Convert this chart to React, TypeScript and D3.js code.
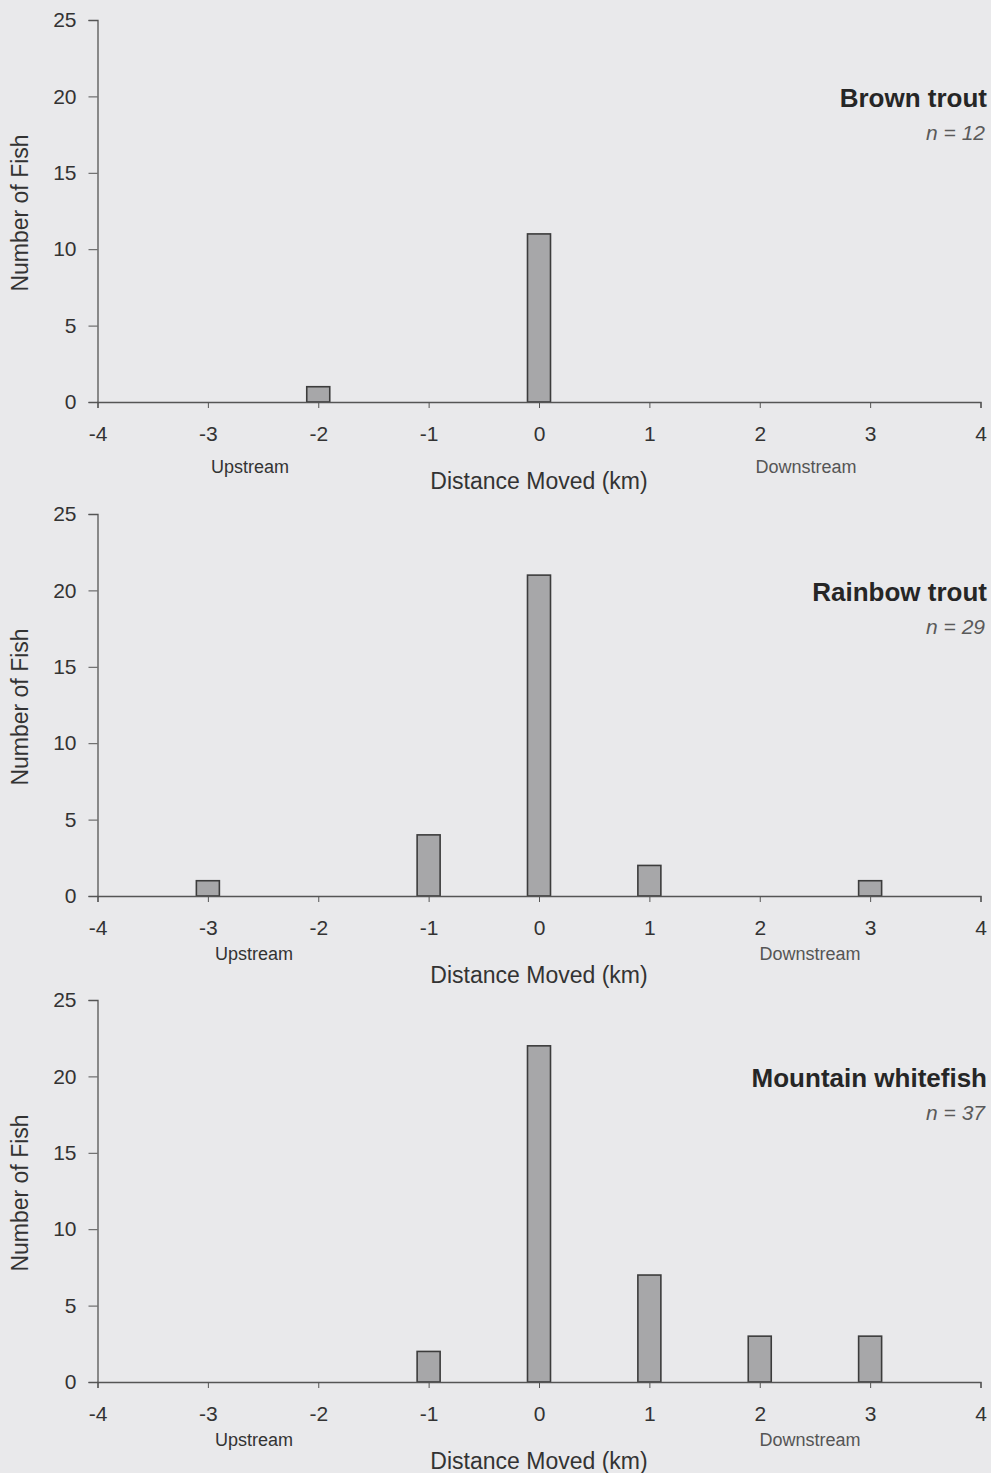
import React, { useEffect, useRef } from 'react';
import * as d3 from 'd3';

const species = ['Brown trout', 'Rainbow trout', 'Mountain whitefish'];
const sampleSizes = [12, 29, 37];
const distances = [-3, -2, -1, 0, 1, 2, 3];
const brownCounts = [0, 1, 0, 11, 0, 0, 0];
const rainbowCounts = [1, 0, 4, 21, 2, 0, 1];
const whitefishCounts = [0, 0, 2, 22, 7, 3, 3];
const xTicks = [-4, -3, -2, -1, 0, 1, 2, 3, 4];
const yTicks = [0, 5, 10, 15, 20, 25];

const W = 991;
const H = 1473;
const FONT = '"Liberation Sans", Arial, sans-serif';

const App: React.FC = () => {
  const svgRef = useRef<SVGSVGElement>(null);

  useEffect(() => {
    if (!svgRef.current) return;
    const svg = d3.select(svgRef.current);
    svg.selectAll('*').remove();

    svg.append('rect').attr('width', W).attr('height', H).attr('fill', '#e9e9eb');

    const allCounts = [brownCounts, rainbowCounts, whitefishCounts];
    const panelTops = [20, 514, 1000];
    const plotH = 382;

    const x = d3.scaleLinear().domain([-4, 4]).range([97.5, 980.5]);
    const barW = 23;
    const fmt = (d: number) => String(d);

    allCounts.forEach((counts, i) => {
      const top = panelTops[i];
      const y = d3.scaleLinear().domain([0, 25]).range([top + plotH, top]);
      const g = svg.append('g');

      // bars
      g.selectAll('.bar')
        .data(distances.map((d, j) => ({ d, v: counts[j] })).filter(p => p.v > 0))
        .enter()
        .append('rect')
        .attr('x', p => x(p.d) - barW / 2)
        .attr('y', p => y(p.v))
        .attr('width', barW)
        .attr('height', p => y(0) - y(p.v))
        .attr('fill', '#a7a7a9')
        .attr('stroke', '#3c3c3c')
        .attr('stroke-width', 1.6);

      // x axis
      const xAxis = g.append('g')
        .attr('transform', `translate(0,${y(0)})`)
        .call(d3.axisBottom(x).tickValues(xTicks).tickSize(6).tickPadding(18).tickFormat(d => fmt(d as number)));
      xAxis.select('.domain').attr('stroke', '#555').attr('stroke-width', 1.3);
      xAxis.selectAll('line').attr('stroke', '#555');
      xAxis.selectAll('text')
        .attr('font-family', FONT)
        .attr('font-size', 21)
        .attr('fill', '#333');

      // y axis
      const yAxis = g.append('g')
        .attr('transform', `translate(${x(-4)},0)`)
        .call(d3.axisLeft(y).tickValues(yTicks).tickSize(9).tickPadding(12));
      yAxis.select('.domain').attr('stroke', '#555').attr('stroke-width', 1.3);
      yAxis.selectAll('line').attr('stroke', '#555');
      yAxis.selectAll('text')
        .attr('font-family', FONT)
        .attr('font-size', 21)
        .attr('fill', '#333');

      // axis titles
      g.append('text')
        .attr('transform', `translate(28,${top + 193}) rotate(-90)`)
        .attr('text-anchor', 'middle')
        .attr('font-family', FONT)
        .attr('font-size', 23)
        .attr('fill', '#333')
        .text('Number of Fish');

      const base = y(0);
      const subY = base + (i === 0 ? 71 : 64);
      g.append('text')
        .attr('x', i === 0 ? 250 : 254)
        .attr('y', subY)
        .attr('text-anchor', 'middle')
        .attr('font-family', FONT)
        .attr('font-size', 18)
        .attr('fill', '#333')
        .text('Upstream');
      g.append('text')
        .attr('x', i === 0 ? 806 : 810)
        .attr('y', subY)
        .attr('text-anchor', 'middle')
        .attr('font-family', FONT)
        .attr('font-size', 18)
        .attr('fill', '#555')
        .text('Downstream');
      g.append('text')
        .attr('x', 539)
        .attr('y', base + 87)
        .attr('text-anchor', 'middle')
        .attr('font-family', FONT)
        .attr('font-size', 23)
        .attr('fill', '#333')
        .text('Distance Moved (km)');

      // species label
      g.append('text')
        .attr('x', 987)
        .attr('y', top + 87)
        .attr('text-anchor', 'end')
        .attr('font-family', FONT)
        .attr('font-size', 26)
        .attr('font-weight', 'bold')
        .attr('fill', '#262626')
        .text(species[i]);
      g.append('text')
        .attr('x', 985)
        .attr('y', top + 120)
        .attr('text-anchor', 'end')
        .attr('font-family', FONT)
        .attr('font-size', 21)
        .attr('font-style', 'italic')
        .attr('fill', '#5a5a5a')
        .text(`n = ${sampleSizes[i]}`);
    });
  }, []);

  return (
    <svg
      ref={svgRef}
      width={W}
      height={H}
      style={{ position: 'absolute', left: 0, top: 0, display: 'block' }}
    />
  );
};

export default App;
